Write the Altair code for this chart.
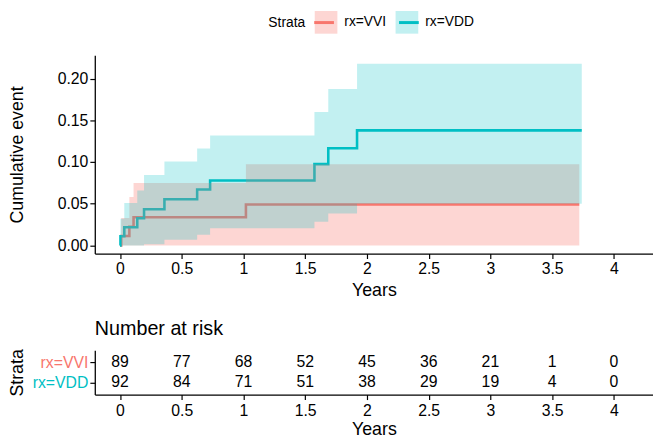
import altair as alt
import pandas as pd

FONT = "Liberation Sans"
STRATA = ["rx=VVI", "rx=VDD"]
LINE_COLORS = ["#F8766D", "#00BFC4"]
BAND_COLORS = ["rgba(248,118,109,0.30)", "rgba(0,191,196,0.24)"]

# Cumulative event curves (step functions) and confidence bands
vvi_time = [0, 0.01, 0.076, 0.11, 1.02, 3.72]
vvi_cum = [0, 0.0112, 0.0225, 0.0337, 0.049, 0.049]
vvi_upper = [0, 0.033, 0.058, 0.075, 0.0975, 0.0975]
vvi_lower = [0, 0, 0, 0, 0, 0]

vdd_time = [0, 0.004, 0.035, 0.14, 0.195, 0.36, 0.625, 0.73, 1.575, 1.687, 1.92, 3.74]
vdd_cum = [0, 0.0109, 0.0217, 0.0326, 0.0435, 0.0553, 0.067, 0.0778, 0.0975, 0.1165, 0.138, 0.138]
vdd_upper = [0, 0.032, 0.051, 0.066, 0.0845, 0.1006, 0.1164, 0.132, 0.16, 0.1875, 0.2178, 0.2178]
vdd_lower = [0, 0, 0, 0, 0.0015, 0.0067, 0.0127, 0.0206, 0.0284, 0.0383, 0.050, 0.050]

# Number at risk table
risk_times = [0, 0.5, 1, 1.5, 2, 2.5, 3, 3.5, 4]
risk_vvi = [89, 77, 68, 52, 45, 36, 21, 1, 0]
risk_vdd = [92, 84, 71, 51, 38, 29, 19, 4, 0]

x_ticks = [0, 0.5, 1, 1.5, 2, 2.5, 3, 3.5, 4]
y_ticks = [0, 0.05, 0.10, 0.15, 0.20]

rows = []
for t, c, lo, up in zip(vvi_time, vvi_cum, vvi_lower, vvi_upper):
    rows.append({"time": t, "cum": c, "lower": lo, "upper": up, "strata": "rx=VVI"})
for t, c, lo, up in zip(vdd_time, vdd_cum, vdd_lower, vdd_upper):
    rows.append({"time": t, "cum": c, "lower": lo, "upper": up, "strata": "rx=VDD"})
df = pd.DataFrame(rows)

risk_rows = []
for t, n in zip(risk_times, risk_vvi):
    risk_rows.append({"time": t, "n": n, "strata": "rx=VVI"})
for t, n in zip(risk_times, risk_vdd):
    risk_rows.append({"time": t, "n": n, "strata": "rx=VDD"})
risk_df = pd.DataFrame(risk_rows)

x_scale = alt.Scale(domain=[-0.204, 4.317], nice=False, zero=False)
y_scale = alt.Scale(domain=[-0.0098, 0.228], nice=False, zero=False)

x_axis = alt.Axis(values=x_ticks, format=".1~f", title="Years", labelFontSize=16,
                  titleFontSize=18, tickSize=5, labelPadding=2, titlePadding=6)
y_axis = alt.Axis(values=y_ticks, format=".2f", title="Cumulative event", labelFontSize=16,
                  titleFontSize=18, tickSize=5, labelPadding=2, titlePadding=31)

X = alt.X("time:Q", scale=x_scale, axis=x_axis, title="Years")

LEG_X = 176
LEG_Y = -45

# line legend: only the coloured strokes, laid over the band legend's swatches
lines = alt.Chart(df).mark_line(interpolate="step-after", strokeWidth=2.6).encode(
    x=X,
    y=alt.Y("cum:Q", scale=y_scale, axis=y_axis, title="Cumulative event"),
    stroke=alt.Stroke(
        "strata:N", sort=STRATA, scale=alt.Scale(range=LINE_COLORS),
        legend=alt.Legend(
            orient="none", legendX=LEG_X + 45, legendY=LEG_Y, direction="horizontal",
            title=None, labelExpr="''", labelFontSize=14, labelOffset=0, columnPadding=53,
            symbolType="stroke", symbolSize=400, symbolStrokeWidth=3,
            symbolOpacity=1, zindex=2,
        ),
    ),
)

bands = alt.Chart(df).mark_area(interpolate="step-after").encode(
    x=X,
    y=alt.Y("lower:Q", scale=y_scale, axis=y_axis, title="Cumulative event"),
    y2="upper:Q",
    fill=alt.Fill(
        "strata:N", scale=alt.Scale(domain=STRATA, range=BAND_COLORS),
        legend=alt.Legend(
            orient="none", legendX=LEG_X, legendY=LEG_Y, direction="horizontal",
            title="Strata", titleOrient="left", titleFontSize=14, titleFontWeight="normal",
            titlePadding=9, titleColor="black", labelColor="black",
            labelFontSize=14, labelOffset=7, columnPadding=9,
            symbolType="square", symbolSize=529, symbolStrokeWidth=0,
            symbolOpacity=1, zindex=1,
        ),
    ),
)

main = alt.layer(lines, bands).properties(width=566, height=201)

table = alt.Chart(risk_df).mark_text(fontSize=16, font=FONT, color="black").encode(
    x=alt.X("time:Q", scale=x_scale,
            axis=alt.Axis(values=x_ticks, format=".1~f", title="Years", labelFontSize=16,
                          titleFontSize=18, tickSize=5, labelPadding=3, titlePadding=2)),
    y=alt.Y("strata:N", sort=STRATA, scale=alt.Scale(type="point", padding=0.6),
            axis=alt.Axis(title="Strata", labelFontSize=16, titleFontSize=18, tickSize=5,
                          labelPadding=2, titlePadding=6,
                          labelColor={"condition": {"test": "datum.value == 'rx=VVI'", "value": "#F8766D"},
                                      "value": "#00BFC4"})),
    text="n:Q",
).properties(
    width=566, height=45,
    title=alt.TitleParams("Number at risk", anchor="start", frame="group", fontSize=20,
                          fontWeight="normal", font=FONT, offset=10, color="black"),
)

chart = alt.vconcat(main, table, spacing=19).properties(
    padding={"left": 0, "top": 0, "right": 0, "bottom": 0},
    background="white",
).configure_axis(
    grid=False, domainColor="black", domainWidth=1.3, tickColor="black", tickWidth=1.2,
    labelColor="black", titleColor="black", labelFont=FONT, titleFont=FONT,
    titleFontWeight="normal",
).configure_legend(
    labelFont=FONT, titleFont=FONT,
).configure_view(stroke=None)

chart.save("out.html", embed_options={"renderer": "svg", "actions": False})
